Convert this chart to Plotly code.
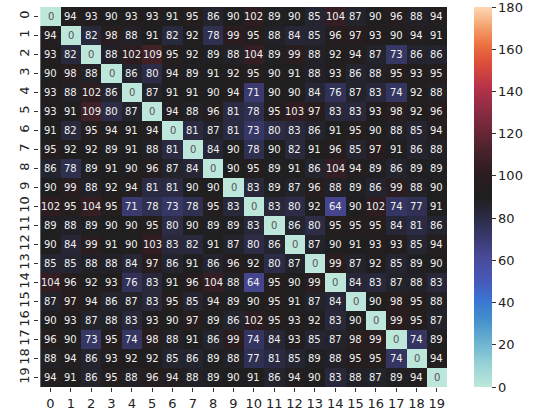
import plotly.graph_objects as go

labels = [str(i) for i in range(20)]

values = [
    [0, 94, 93, 90, 93, 93, 91, 95, 86, 90, 102, 89, 90, 85, 104, 87, 90, 96, 88, 94],
    [94, 0, 82, 98, 88, 91, 82, 92, 78, 99, 95, 88, 84, 85, 96, 97, 93, 90, 94, 91],
    [93, 82, 0, 88, 102, 109, 95, 92, 89, 88, 104, 89, 99, 88, 92, 94, 87, 73, 86, 86],
    [90, 98, 88, 0, 86, 80, 94, 89, 91, 92, 95, 90, 91, 88, 93, 86, 88, 95, 93, 95],
    [93, 88, 102, 86, 0, 87, 91, 91, 90, 94, 71, 90, 90, 84, 76, 87, 83, 74, 92, 88],
    [93, 91, 109, 80, 87, 0, 94, 88, 96, 81, 78, 95, 103, 97, 83, 83, 93, 98, 92, 96],
    [91, 82, 95, 94, 91, 94, 0, 81, 87, 81, 73, 80, 83, 86, 91, 95, 90, 88, 85, 94],
    [95, 92, 92, 89, 91, 88, 81, 0, 84, 90, 78, 90, 82, 91, 96, 85, 97, 91, 86, 88],
    [86, 78, 89, 91, 90, 96, 87, 84, 0, 90, 95, 89, 91, 86, 104, 94, 89, 86, 89, 89],
    [90, 99, 88, 92, 94, 81, 81, 90, 90, 0, 83, 89, 87, 96, 88, 89, 86, 99, 88, 90],
    [102, 95, 104, 95, 71, 78, 73, 78, 95, 83, 0, 83, 80, 92, 64, 90, 102, 74, 77, 91],
    [89, 88, 89, 90, 90, 95, 80, 90, 89, 89, 83, 0, 86, 80, 95, 95, 95, 84, 81, 86],
    [90, 84, 99, 91, 90, 103, 83, 82, 91, 87, 80, 86, 0, 87, 90, 91, 93, 93, 85, 94],
    [85, 85, 88, 88, 84, 97, 86, 91, 86, 96, 92, 80, 87, 0, 99, 87, 92, 85, 89, 90],
    [104, 96, 92, 93, 76, 83, 91, 96, 104, 88, 64, 95, 90, 99, 0, 84, 83, 87, 88, 83],
    [87, 97, 94, 86, 87, 83, 95, 85, 94, 89, 90, 95, 91, 87, 84, 0, 90, 98, 95, 88],
    [90, 93, 87, 88, 83, 93, 90, 97, 89, 86, 102, 95, 93, 92, 83, 90, 0, 99, 95, 87],
    [96, 90, 73, 95, 74, 98, 88, 91, 86, 99, 74, 84, 93, 85, 87, 98, 99, 0, 74, 89],
    [88, 94, 86, 93, 92, 92, 85, 86, 89, 88, 77, 81, 85, 89, 88, 95, 95, 74, 0, 94],
    [94, 91, 86, 95, 88, 96, 94, 88, 89, 90, 91, 86, 94, 90, 83, 88, 87, 89, 94, 0],
]

cbar_ticks = [0, 20, 40, 60, 80, 100, 120, 140, 160, 180]

icefire = [
    [0.0, "#bde7db"],
    [0.06, "#97d2d6"],
    [0.12, "#68b1d0"],
    [0.18, "#438ecc"],
    [0.23, "#3a74d2"],
    [0.28, "#4659b8"],
    [0.34, "#4a4a9a"],
    [0.39, "#3b3b72"],
    [0.45, "#2a2a42"],
    [0.5, "#1f1f1f"],
    [0.56, "#2b1c1f"],
    [0.62, "#48222b"],
    [0.68, "#6e2838"],
    [0.74, "#942c45"],
    [0.79, "#b8324a"],
    [0.85, "#dc4c3a"],
    [0.9, "#ec703f"],
    [0.95, "#f5a470"],
    [1.0, "#fdd8b7"],
]

fig = go.Figure()
fig.add_trace(go.Heatmap(
    z=values, x=labels, y=labels,
    colorscale=icefire, zmin=0, zmax=180,
    xgap=0, ygap=0,
    colorbar=dict(
        x=1.066, xanchor="left", y=0.5, yanchor="middle", len=1.0, lenmode="fraction",
        thickness=18, outlinewidth=0, xpad=0, ypad=0,
        tickvals=cbar_ticks,
        ticklabeloverflow="allow",
        ticks="outside", ticklen=4, tickcolor="#333",
        tickfont=dict(family="DejaVu Sans", size=13, color="#222"),
    ),
    hoverinfo="skip",
))

annotations = []
for i, row in enumerate(values):
    for j, v in enumerate(row):
        annotations.append(dict(
            x=labels[j], y=labels[i], text=str(v), showarrow=False,
            font=dict(family="DejaVu Sans", size=10, color="#555555" if v < 40 else "#f0f0f0"),
        ))

fig.update_layout(
    width=535, height=417,
    margin=dict(l=39, r=88, t=7, b=30, autoexpand=False),
    paper_bgcolor="white", plot_bgcolor="white",
    annotations=annotations,
    xaxis=dict(type="category", ticks="outside", ticklen=4, tickcolor="#333",
               automargin=False,
               tickfont=dict(family="DejaVu Sans", size=13, color="#222"),
               showgrid=False, zeroline=False, showline=False),
    yaxis=dict(type="category", autorange="reversed", ticks="outside", ticklen=4, tickcolor="#333",
               tickangle=-90, automargin=False,
               tickfont=dict(family="DejaVu Sans", size=13, color="#222"),
               showgrid=False, zeroline=False, showline=False),
)

fig.write_html("out.html", config={"displayModeBar": False},
               post_script="document.body.style.margin='0px';document.body.style.overflow='hidden';")
